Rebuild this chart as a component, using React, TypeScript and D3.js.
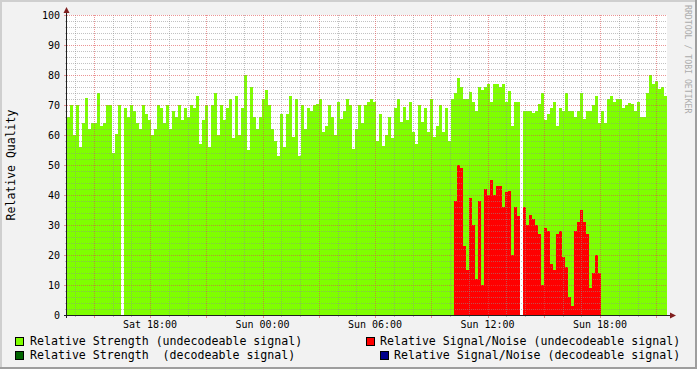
import React from "react";
import * as d3 from "d3";

// ---- data ----
const startTime = new Date(2010, 0, 16, 13, 34, 24); // a Saturday
const spanHours = 32;
const stepMinutes = 9.6;

const strength: (number | null)[] = [
  66, 70, 60, 70, 56, 64, 72.5, 62, 64, 64, 74, 63, 64, 70, 70, 54, 60.5, 70, null, 69,
  66, 70, 68, 64, 62, 70, 67, 65, 60, 62, 70, 69, 64, 70, 62, 68, 66, 70, 65, 69,
  66, 70, 69, 73, 57, 65, 70, 56, 70, 74,
  60, 70, 65, 69, 72, 59, 73, 60, 69, 80, 55, 76, 66, 62, 66, 72, 75, 70, 62, 58,
  53, 67, 56, 67, 73, 59.5, 72, 53, 70, 62, 69, 68, 70, 70.5, 72, 61, 63, 70, 66, 60,
  71, 65.5, 68, 72, 70, 55.5, 62, 70, 64, 70,
  71, 72, 71, 58, 67, 56.5, 60, 66, 59, 69, 72, 64.5, 69.5, 65, 71, 61, 57, 70, 64.5, 69,
  61, 72, 59.5, 63, 70, 61, 69, 58, 72, 74, 79, 76, 72, 72, 74.5, 71, 68, 76, 75, 76,
  77, 71, 77, 77, 76, 77, 71, 74.7, 63, 71,
  71, null, 68, 68, 68, 67.5, 68, 70.5, 74, 65, 67, 69, 71, 63, 69, 68, 74, 68, 68, 66,
  68, 74, 65.5, 68, 68, 70, 73, 64, 68, 64, 72, 73, 71, 72, 72, 69, 70, 70.8, 70.5, 68,
  71, 66, 66, 74, 80, 77, 78, 75.5, 76, 73,
];

const snrOffset = 129;
const snr: (number | null)[] = [
  38, 50, 49, 23, 15, 39, 30, 12, 38, 10, 42, 40, 45, 40, 43, 43, 36, 41, 41.5, 20,
  36, 33, null, 36, 30, 33.5, 32, 30, 27, 10, 29, 28, 17, 15, 27, 28, 19.4, 16, 6, 3,
  28, 31, 35, 31, 27, 9, 14, 20, 14,
];

const yTickValues = [0, 10, 20, 30, 40, 50, 60, 70, 80, 90, 100];
const yMinorStep = 2;
const xLabelFormat = "%a %H:%M";
const yTitle = "Relative Quality";
const watermark = "RRDTOOL / TOBI OETIKER";

const legendLabels = [
  "Relative Strength (undecodeable signal)",
  "Relative Signal/Noise (undecodeable signal)",
  "Relative Strength  (decodeable signal)",
  "Relative Signal/Noise (decodeable signal)",
];
const legendColors = ["#7fff00", "#ff0000", "#006400", "#00008b"];

// ---- styles ----
const W = 697;
const H = 369;
const FONT = "'DejaVu Sans Mono', monospace";
const GRID = "rgba(143,143,143,0.55)";
const MGRID = "rgba(222,79,79,0.6)";

export default function App() {
  const left = 67, right = 667, top = 15, bottom = 315;
  const endTime = new Date(startTime.getTime() + spanHours * 3600e3);
  const x = d3.scaleTime().domain([startTime, endTime]).range([left, right]);
  const y = d3.scaleLinear().domain([0, 100]).range([bottom, top]);
  const tAt = (i: number) => new Date(startTime.getTime() + i * stepMinutes * 60e3);
  const fmt = d3.timeFormat(xLabelFormat);

  const hours = d3.timeHour.every(1)!.range(startTime, endTime);
  const minorX = hours.filter((d) => d.getHours() % 3 !== 0);
  const majorX = hours.filter((d) => d.getHours() % 3 === 0);
  const labelX = hours.filter((d) => d.getHours() % 6 === 0);

  const minorY = d3.range(0, 101, yMinorStep).filter((v) => v % 10 !== 0 && v > 0);
  const majorY = yTickValues.filter((v) => v > 0);

  const px = (v: number) => Math.round(v) + 0.5;

  const legendPos = [
    { sx: 15, tx: 30, y: 345 },
    { sx: 366, tx: 380, y: 345 },
    { sx: 15, tx: 30, y: 359 },
    { sx: 380, tx: 394, y: 359 },
  ];

  return (
    <svg
      width={W}
      height={H}
      style={{ position: "absolute", left: 0, top: 0, display: "block" }}
      fontFamily={FONT}
    >
      {/* background + frame */}
      <rect x={0} y={0} width={W} height={H} fill="#f2f2f2" />
      <rect x={0} y={0} width={W} height={2} fill="#cfcfcf" />
      <rect x={0} y={0} width={2} height={H} fill="#cfcfcf" />
      <rect x={0} y={H - 2} width={W} height={2} fill="#9e9e9e" />
      <rect x={W - 2} y={0} width={2} height={H} fill="#9e9e9e" />

      {/* canvas */}
      <rect x={left} y={top} width={right - left} height={bottom - top} fill="#ffffff" />

      {/* green strength bars */}
      <g shapeRendering="crispEdges">
        {strength.map((v, i) =>
          v == null ? null : (
            <rect
              key={"s" + i}
              x={x(tAt(i))}
              y={y(v)}
              width={x(tAt(i + 1)) - x(tAt(i))}
              height={bottom - y(v)}
              fill="#7fff00"
            />
          )
        )}
        {snr.map((v, k) => {
          if (v == null) return null;
          const i = k + snrOffset;
          return (
            <rect
              key={"n" + i}
              x={x(tAt(i))}
              y={y(v)}
              width={x(tAt(i + 1)) - x(tAt(i))}
              height={bottom - y(v)}
              fill="#ff0000"
            />
          );
        })}
      </g>

      {/* grid */}
      <g strokeDasharray="1,1" strokeWidth={1} fill="none">
        {minorY.map((v) => (
          <line key={"my" + v} x1={left} x2={right} y1={px(y(v))} y2={px(y(v))} stroke={GRID} />
        ))}
        {minorX.map((d) => (
          <line key={"mx" + +d} x1={px(x(d))} x2={px(x(d))} y1={top} y2={bottom} stroke={GRID} />
        ))}
        {majorY.map((v) => (
          <line key={"My" + v} x1={left} x2={right} y1={px(y(v))} y2={px(y(v))} stroke={MGRID} />
        ))}
        {majorX.map((d) => (
          <line key={"Mx" + +d} x1={px(x(d))} x2={px(x(d))} y1={top} y2={bottom} stroke={MGRID} />
        ))}
      </g>

      {/* tick marks outside canvas */}
      <g strokeWidth={1}>
        {minorY.map((v) => (
          <line key={"ty" + v} x1={left - 2} x2={left} y1={px(y(v))} y2={px(y(v))} stroke={GRID} />
        ))}
        {majorY.map((v) => (
          <line key={"tY" + v} x1={left - 3} x2={left} y1={px(y(v))} y2={px(y(v))} stroke={MGRID} />
        ))}
        {minorX.map((d) => (
          <line key={"tx" + +d} x1={px(x(d))} x2={px(x(d))} y1={bottom} y2={bottom + 2} stroke={GRID} />
        ))}
        {majorX.map((d) => (
          <line key={"tX" + +d} x1={px(x(d))} x2={px(x(d))} y1={bottom} y2={bottom + 3} stroke={MGRID} />
        ))}
      </g>

      {/* axes */}
      <line x1={left - 0.5} x2={left - 0.5} y1={bottom + 3} y2={top - 5} stroke="#1f1f1f" strokeWidth={1} />
      <line x1={left - 3} x2={right + 4} y1={bottom + 0.5} y2={bottom + 0.5} stroke="#1f1f1f" strokeWidth={1} />
      <path d={`M${left - 3.5},${top - 2} L${left + 2.5},${top - 2} L${left - 0.5},${top - 8} Z`} fill="#801f1f" />
      <path d={`M${right + 3},${bottom - 2.5} L${right + 3},${bottom + 3.5} L${right + 9},${bottom + 0.5} Z`} fill="#801f1f" />

      {/* y tick labels */}
      <g fontSize={10} fill="#000" textAnchor="end">
        {yTickValues.map((v) => (
          <text key={"yl" + v} x={60} y={y(v) + 4}>
            {v}
          </text>
        ))}
      </g>

      {/* x tick labels */}
      <g fontSize={10} fill="#000" textAnchor="middle">
        {labelX.map((d) => (
          <text key={"xl" + +d} x={x(d)} y={328}>
            {fmt(d)}
          </text>
        ))}
      </g>

      {/* y title */}
      <text
        transform={`translate(15,165) rotate(-90)`}
        textAnchor="middle"
        fontSize={11.5}
        fill="#000"
      >
        {yTitle}
      </text>

      {/* watermark */}
      <text transform={`translate(685,5) rotate(90)`} fontSize={8.2} fill="#acacac">
        {watermark}
      </text>

      {/* legend */}
      <g fontSize={11.6} fill="#000">
        {legendLabels.map((lab, i) => (
          <g key={"lg" + i}>
            <rect
              x={legendPos[i].sx + 0.5}
              y={legendPos[i].y - 7.5}
              width={8}
              height={8}
              fill={legendColors[i]}
              stroke="#000"
              strokeWidth={1}
            />
            <text x={legendPos[i].tx} y={legendPos[i].y} style={{ whiteSpace: "pre" }}>
              {lab}
            </text>
          </g>
        ))}
      </g>
    </svg>
  );
}
